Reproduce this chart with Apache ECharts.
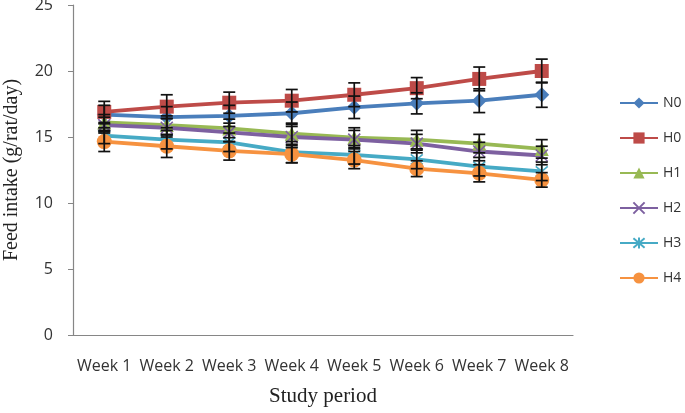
<!DOCTYPE html>
<html><head><meta charset="utf-8">
<script src="https://cdn.jsdelivr.net/npm/echarts@6/dist/echarts.min.js"></script>
<style>html,body{margin:0;padding:0;background:#fff}#c{width:685px;height:413px}</style>
</head><body><div id="c"></div>
<script>
const categories = ['Week 1','Week 2','Week 3','Week 4','Week 5','Week 6','Week 7','Week 8'];
const N0 = [16.7, 16.5, 16.6, 16.8, 17.25, 17.55, 17.75, 18.2];
const H0 = [16.9, 17.3, 17.6, 17.75, 18.2, 18.7, 19.4, 20.0];
const H1 = [16.1, 15.9, 15.65, 15.25, 14.95, 14.8, 14.5, 14.1];
const H2 = [15.9, 15.7, 15.35, 15.0, 14.8, 14.5, 13.9, 13.6];
const H3 = [15.1, 14.8, 14.6, 13.85, 13.65, 13.3, 12.75, 12.4];
const H4 = [14.65, 14.3, 13.95, 13.7, 13.25, 12.6, 12.25, 11.75];
const N0err = [0.7, 0.8, 0.8, 0.85, 0.85, 0.8, 0.9, 0.95];
const H0err = [0.8, 0.9, 0.8, 0.85, 0.9, 0.8, 0.9, 0.9];
const H1err = [0.6, 0.7, 0.7, 0.8, 0.75, 0.7, 0.7, 0.7];
const H2err = [0.6, 0.7, 0.7, 0.8, 0.7, 0.7, 0.7, 0.7];
const H3err = [0.6, 0.7, 0.7, 0.8, 0.7, 0.7, 0.7, 0.7];
const H4err = [0.75, 0.85, 0.7, 0.65, 0.65, 0.6, 0.65, 0.55];
const yTicks = [0, 5, 10, 15, 20, 25];

const seriesDefs = [
  {name:'N0', data:N0, err:N0err, color:'#4a7ebb', symbol:'diamond', size:15},
  {name:'H0', data:H0, err:H0err, color:'#be4b48', symbol:'rect', size:14},
  {name:'H1', data:H1, err:H1err, color:'#98b954', symbol:'triangle', size:14},
  {name:'H2', data:H2, err:H2err, color:'#7d60a0', symbol:'path://M0,0L10,10M10,0L0,10', size:12, stroke:true},
  {name:'H3', data:H3, err:H3err, color:'#46aac5', symbol:'path://M0,0L10,10M10,0L0,10M5,-1L5,11', size:12, stroke:true},
  {name:'H4', data:H4, err:H4err, color:'#f69240', symbol:'circle', size:15}
];

const series = [];
seriesDefs.forEach(d => {
  series.push({
    name:d.name, type:'line', data:d.data, symbol:d.symbol, symbolSize:d.size,
    lineStyle:{color:d.color, width:3.8},
    itemStyle: d.stroke ? {color:'rgba(0,0,0,0)', borderColor:d.color, borderWidth:1.6} : {color:d.color, borderWidth:0},
    z:2
  });
});
seriesDefs.forEach(d => {
  series.push({
    type:'custom', name:d.name+'err', z:5, silent:true,
    data: d.data.map((v,i)=>[i, v - d.err[i], v + d.err[i]]),
    renderItem:(params, api) => {
      const lo = api.coord([api.value(0), api.value(1)]);
      const hi = api.coord([api.value(0), api.value(2)]);
      const w = 6;
      const st = {stroke:'#111', lineWidth:1.7};
      return {type:'group', children:[
        {type:'line', shape:{x1:lo[0],y1:lo[1],x2:hi[0],y2:hi[1]}, style:st},
        {type:'line', shape:{x1:lo[0]-w,y1:lo[1],x2:lo[0]+w,y2:lo[1]}, style:st},
        {type:'line', shape:{x1:hi[0]-w,y1:hi[1],x2:hi[0]+w,y2:hi[1]}, style:st}
      ]};
    }
  });
});

const chart = echarts.init(document.getElementById('c'), null, {renderer:'canvas'});
chart.setOption({
  animation:false,
  backgroundColor:'#fff',
  grid:{left:73, top:5, right:112, bottom:78, containLabel:false, outerBoundsMode:'none'},
  legend:{
    orient:'vertical', left:614, top:91, itemGap:21, itemWidth:38, itemHeight:14,
    data:seriesDefs.map(d=>d.name),
    textStyle:{fontFamily:'Open Sans', fontSize:14, color:'#333'}
  },
  xAxis:{
    type:'category', data:categories, boundaryGap:true,
    axisLine:{lineStyle:{color:'#868686', width:1.2}},
    axisTick:{alignWithLabel:false, length:5, lineStyle:{color:'#868686'}},
    axisLabel:{interval:0, hideOverlap:false, fontFamily:'Open Sans', fontSize:16, color:'#333', margin:23},
    name:'Study period', nameLocation:'middle', nameGap:51,
    nameTextStyle:{fontFamily:'Liberation Serif', fontSize:21, color:'#222'}
  },
  yAxis:{
    type:'value', min:yTicks[0], max:yTicks[yTicks.length-1], interval:5,
    splitLine:{show:false},
    axisLine:{show:true, lineStyle:{color:'#868686', width:1.2}},
    axisTick:{show:true, length:5, lineStyle:{color:'#868686'}},
    axisLabel:{fontFamily:'Open Sans', fontSize:16, color:'#333', margin:20},
    name:'Feed intake (g/rat/day)', nameLocation:'middle', nameGap:51,
    nameTextStyle:{fontFamily:'Liberation Serif', fontSize:20, color:'#222'}
  },
  series:series
});
</script></body></html>
